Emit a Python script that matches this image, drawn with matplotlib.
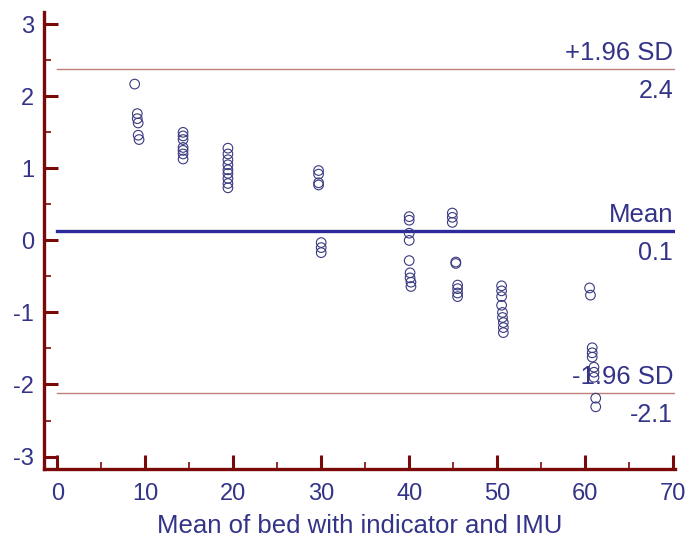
import matplotlib
matplotlib.use("Agg")
import matplotlib.pyplot as plt
from matplotlib.ticker import MultipleLocator

plt.rcParams['font.family'] = ['Liberation Sans', 'DejaVu Sans']
plt.rcParams['axes.unicode_minus'] = False

# Bland-Altman data: mean of both methods (x) vs difference (y)
mean_vals = [8.8, 9.1, 9.1, 9.2, 9.2, 9.3,
             14.3, 14.3, 14.3, 14.3, 14.3, 14.3, 14.3,
             19.4, 19.4, 19.4, 19.4, 19.4, 19.4, 19.4, 19.4, 19.4,
             29.7, 29.7, 29.7, 29.7, 30.0, 30.0, 30.0,
             40.0, 40.0, 40.0, 40.0, 40.0, 40.1, 40.1, 40.2, 40.2,
             44.9, 44.9, 44.9, 45.3, 45.3, 45.5, 45.5, 45.5, 45.5,
             50.5, 50.5, 50.5, 50.5, 50.6, 50.6, 50.7, 50.7, 50.7,
             60.5, 60.6, 60.8, 60.8, 60.8, 61.0, 61.0, 61.0, 61.2, 61.2]
diff_vals = [2.17, 1.76, 1.69, 1.63, 1.46, 1.40,
             1.50, 1.45, 1.40, 1.29, 1.25, 1.20, 1.13,
             1.28, 1.20, 1.12, 1.05, 0.98, 0.93, 0.86, 0.79, 0.73,
             0.97, 0.92, 0.80, 0.77, -0.03, -0.10, -0.17,
             0.33, 0.28, 0.10, 0.00, -0.28, -0.45, -0.52, -0.58, -0.64,
             0.38, 0.32, 0.25, -0.30, -0.32, -0.62, -0.67, -0.73, -0.78,
             -0.63, -0.70, -0.78, -0.90, -1.00, -1.07, -1.14, -1.21, -1.28,
             -0.66, -0.76, -1.49, -1.56, -1.62, -1.76, -1.83, -1.90, -2.19, -2.31]

mean_diff = 0.125
upper_loa = 2.375
lower_loa = -2.125
line_labels = [("+1.96 SD", "2.4", upper_loa), ("Mean", "0.1", mean_diff), ("-1.96 SD", "-2.1", lower_loa)]

spine_col = "#7a0a0a"
text_col = "#333388"

fig = plt.figure(figsize=(6.88, 5.47), dpi=100)
ax = fig.add_axes([0.064, 0.143, 0.917, 0.835])

ax.scatter(mean_vals, diff_vals, s=48, facecolors='none', edgecolors='#3a3a80', linewidths=0.8, zorder=3)

ax.plot([0, 70.2], [mean_diff, mean_diff], color='#2a2a9a', lw=2.4)
ax.plot([0, 70.2], [upper_loa, upper_loa], color='#c08078', lw=1.0)
ax.plot([0, 70.2], [lower_loa, lower_loa], color='#c08078', lw=1.0)

for top, bottom, yv in line_labels:
    ax.annotate(top, (70, yv), xytext=(0, 3), textcoords='offset points',
                ha='right', va='bottom', fontsize=18.5, color=text_col)
    ax.annotate(bottom, (70, yv), xytext=(0, -7), textcoords='offset points',
                ha='right', va='top', fontsize=18, color=text_col)

ax.set_xlim(-1.5, 70.2)
ax.set_ylim(-3.17, 3.17)
ax.xaxis.set_major_locator(MultipleLocator(10))
ax.xaxis.set_minor_locator(MultipleLocator(5))
ax.yaxis.set_major_locator(MultipleLocator(1))
ax.yaxis.set_minor_locator(MultipleLocator(0.5))

for s in ['top', 'right']:
    ax.spines[s].set_visible(False)
for s in ['left', 'bottom']:
    ax.spines[s].set_color(spine_col)
    ax.spines[s].set_linewidth(2.4)

ax.tick_params(which='major', direction='in', length=10, width=2.2, color=spine_col,
               labelsize=17, labelcolor=text_col, pad=7)
ax.tick_params(axis='x', which='major', pad=10)
ax.tick_params(which='minor', direction='in', length=5, width=1.2, color=spine_col)

ax.set_xlabel("Mean of bed with indicator and IMU", fontsize=18.5, color=text_col, labelpad=7)

fig.savefig("out.png", dpi=100)
